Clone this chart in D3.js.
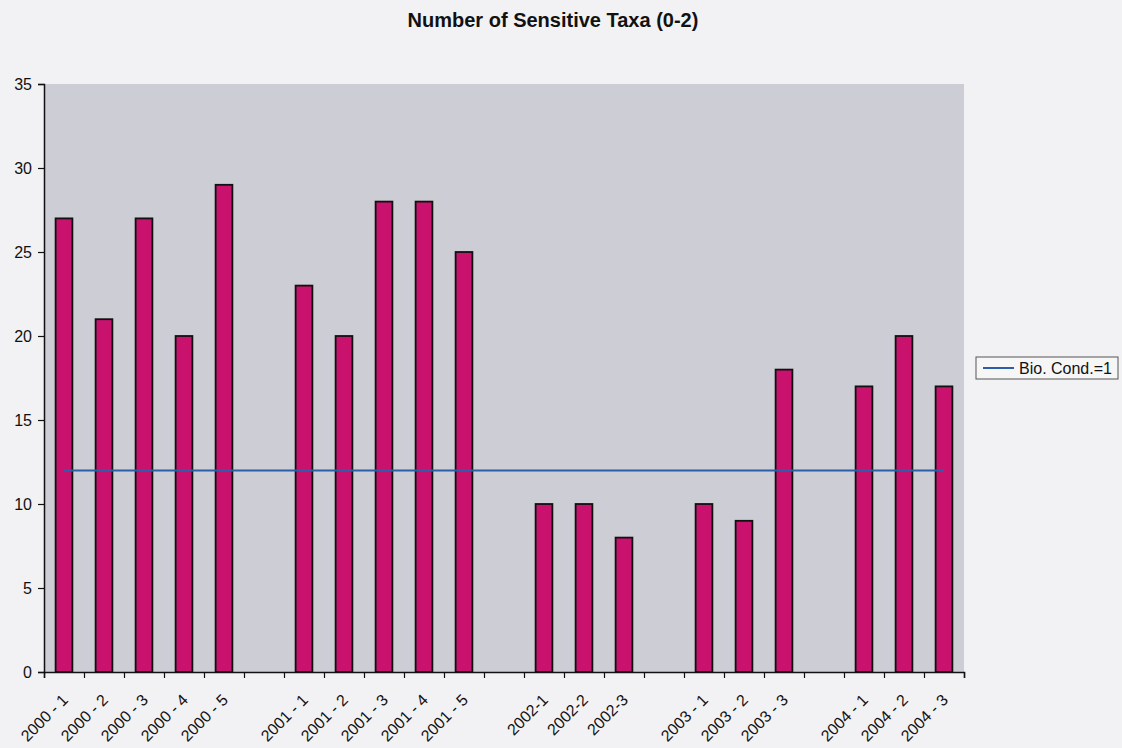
<!DOCTYPE html>
<html>
<head>
<meta charset="utf-8">
<script src="https://cdn.jsdelivr.net/npm/d3@7/dist/d3.min.js"></script>
<style>
  html, body { margin: 0; padding: 0; background: #f2f2f4; }
  svg { display: block; font-family: "Liberation Sans", Arial, sans-serif; }
</style>
</head>
<body>
<svg id="chart" width="1122" height="748"></svg>
<script>
// ---- data ----
const categories = [
  "2000 - 1", "2000 - 2", "2000 - 3", "2000 - 4", "2000 - 5", "",
  "2001 - 1", "2001 - 2", "2001 - 3", "2001 - 4", "2001 - 5", "",
  "2002-1", "2002-2", "2002-3", "",
  "2003 - 1", "2003 - 2", "2003 - 3", "",
  "2004 - 1", "2004 - 2", "2004 - 3"
];
const sensitiveTaxa = [
  27, 21, 27, 20, 29, null,
  23, 20, 28, 28, 25, null,
  10, 10, 8, null,
  10, 9, 18, null,
  17, 20, 17
];
const bioCond1 = [
  12, 12, 12, 12, 12, 12,
  12, 12, 12, 12, 12, 12,
  12, 12, 12, 12,
  12, 12, 12, 12,
  12, 12, 12
];
const yTicks = [0, 5, 10, 15, 20, 25, 30, 35];
const titleText = "Number of Sensitive Taxa (0-2)";
const legendLabel = "Bio. Cond.=1";

// ---- layout ----
const svg = d3.select("#chart");
const plot = { left: 44, right: 964, top: 84, bottom: 672 };
const slots = categories.map((d, i) => i);

const x = d3.scaleBand()
  .domain(slots)
  .range([plot.left, plot.right])
  .paddingInner(0.58)
  .paddingOuter(0.29);

const y = d3.scaleLinear().domain([0, 35]).range([plot.bottom, plot.top]);

// title
svg.append("text")
  .attr("x", 553).attr("y", 27)
  .attr("text-anchor", "middle")
  .attr("font-size", 20).attr("font-weight", "bold")
  .attr("fill", "#111")
  .text(titleText);

// plot area
svg.append("rect")
  .attr("x", plot.left).attr("y", plot.top)
  .attr("width", plot.right - plot.left).attr("height", plot.bottom - plot.top)
  .attr("fill", "#cdcdd5");

// bars
svg.append("g").selectAll("rect")
  .data(sensitiveTaxa.map((v, i) => ({ i, v })).filter(d => d.v !== null))
  .join("rect")
  .attr("x", d => x(d.i))
  .attr("y", d => y(d.v))
  .attr("width", x.bandwidth())
  .attr("height", d => y(0) - y(d.v))
  .attr("fill", "#c8126e")
  .attr("stroke", "#111")
  .attr("stroke-width", 1.8);

// line series
const line = d3.line()
  .x((d, i) => x(i) + x.bandwidth() / 2)
  .y(d => y(d));
svg.append("path")
  .datum(bioCond1)
  .attr("d", line)
  .attr("fill", "none")
  .attr("stroke", "#2f5ea8")
  .attr("stroke-width", 2);

// y axis
const yAxis = d3.axisLeft(y).tickValues(yTicks).tickSize(6).tickPadding(6);
const gy = svg.append("g").attr("transform", `translate(${plot.left},0)`).call(yAxis);
gy.select(".domain").attr("stroke", "#111").attr("stroke-width", 1.5);
gy.selectAll(".tick line").attr("stroke", "#111").attr("stroke-width", 1.2);
gy.selectAll(".tick text").attr("font-size", 16).attr("fill", "#111")
  .attr("font-family", "'Liberation Sans', Arial, sans-serif");

// x axis (ticks between categories)
const boundaries = d3.range(slots.length + 1);
const xb = d3.scaleLinear().domain([0, slots.length]).range([plot.left, plot.right]);
const gx = svg.append("g").attr("transform", `translate(0,${plot.bottom})`);
gx.call(d3.axisBottom(xb).tickValues(boundaries).tickSize(6).tickFormat(""));
gx.select(".domain").attr("stroke", "#111").attr("stroke-width", 1.5);
gx.selectAll(".tick line").attr("stroke", "#111").attr("stroke-width", 1.2);

gx.selectAll("text.cat")
  .data(categories.map((c, i) => ({ c, i })).filter(d => d.c !== ""))
  .join("text")
  .attr("class", "cat")
  .attr("text-anchor", "end")
  .attr("font-size", 16)
  .attr("fill", "#111")
  .attr("transform", d => `translate(${x(d.i) + x.bandwidth() / 2 + 1},${25}) rotate(-45)`)
  .attr("dy", "0.35em")
  .text(d => d.c);

// legend
const lg = svg.append("g").attr("transform", "translate(976,357)");
lg.append("rect")
  .attr("width", 142).attr("height", 22)
  .attr("fill", "#f6f6f6").attr("stroke", "#555").attr("stroke-width", 1);
lg.append("line")
  .attr("x1", 7).attr("x2", 38).attr("y1", 11).attr("y2", 11)
  .attr("stroke", "#2f5ea8").attr("stroke-width", 2);
lg.append("text")
  .attr("x", 43).attr("y", 17)
  .attr("font-size", 16).attr("fill", "#111")
  .text(legendLabel);
</script>
</body>
</html>
